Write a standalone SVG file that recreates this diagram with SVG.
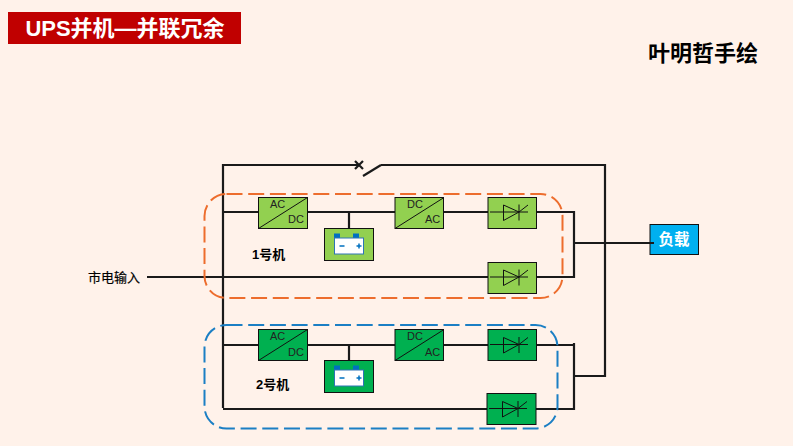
<svg xmlns="http://www.w3.org/2000/svg" width="793" height="446" viewBox="0 0 793 446">
<style>
text{font-family:"Liberation Sans","Noto Sans CJK SC",sans-serif}
.cjk{font-family:"Liberation Sans","Noto Sans CJK SC",sans-serif;font-weight:bold;fill:#000}
.wire{fill:none;stroke:#1a1a1a;stroke-width:2.200}
.thin{fill:none;stroke:#111;stroke-width:1}
.lg{fill:#92d050;stroke:#111;stroke-width:1}
.dg{fill:#00b050;stroke:#111;stroke-width:1}
.lbl{font-size:11px;fill:#222}
.zone{fill:none;stroke-width:2;stroke-dasharray:16 5.7}
</style>
<defs>
<g id="conv"><line class="thin" x1="0" y1="31" x2="49" y2="0"/></g>
<g id="scr">
<path class="thin" d="M2 15H40M15.500 8V23.500L31 15ZM31 7.500V23.500M31 15L40 8"/>
</g>
<g id="batt">
<rect x="9.500" y="5" width="6" height="5" fill="#0070c0"/>
<rect x="28.500" y="5" width="6" height="5" fill="#0070c0"/>
<rect x="10" y="9.500" width="29" height="16" fill="#fff" stroke="#2e75b6" stroke-width="1"/>
<path d="M15 17.500H20M32 17.500H37M34.500 15V20" stroke="#0070c0" stroke-width="1.500" fill="none"/>
</g>
</defs>
<rect width="793" height="446" fill="#fff2ea"/>
<g id="connectors">
<path class="wire" d="M223 408V165H358M381 165H605V376H574"/>
<path class="wire" d="M363 176L381 165"/>
<path class="wire" d="M355 161L363 169M363 161L355 169"/>
<path class="wire" d="M223 212H574V277H147"/>
<path class="wire" d="M349 212V228"/>
<path class="wire" d="M574 243H654"/>
<path class="wire" d="M223 345H574M574 343V409H223"/>
<path class="wire" d="M349 345V361"/>
</g>
<g id="zone-1"><rect class="zone" x="204.500" y="194" width="358" height="104" rx="22" stroke="#ed6d2d"/></g>
<g id="zone-2"><rect class="zone" x="204.500" y="325" width="353" height="103.500" rx="22" stroke="#1b7fc4"/></g>
<g id="title"><rect x="8" y="12" width="233" height="32" fill="#c00000"/><text x="125" y="35.500" font-size="22" font-weight="bold" fill="#fff" text-anchor="middle">UPS并机—并联冗余</text></g>
<g id="author"><text class="cjk" x="648" y="60.500" font-size="22">叶明哲手绘</text></g>
<g id="mains-label"><text class="cjk" x="88" y="281.500" font-size="13" style="font-weight:normal;stroke:#000;stroke-width:.2">市电输入</text></g>
<g id="label-1"><text class="cjk" x="252" y="259" font-size="13">1号机</text></g>
<g id="label-2"><text class="cjk" x="256" y="389" font-size="13">2号机</text></g>
<g id="rectifier-1"><rect class="lg" x="258.500" y="197.500" width="49" height="31"/><use href="#conv" x="258.500" y="197.500"/><text class="lbl" x="270" y="208">AC</text><text class="lbl" x="288" y="223">DC</text></g>
<g id="battery-1"><rect class="lg" x="324.500" y="228.500" width="49" height="32"/><use href="#batt" x="324.500" y="228.500"/></g>
<g id="inverter-1"><rect class="lg" x="395" y="197.500" width="48.500" height="31"/><use href="#conv" x="395" y="197.500"/><text class="lbl" x="407" y="208">DC</text><text class="lbl" x="425" y="223">AC</text></g>
<g id="scr-1a"><rect class="lg" x="488" y="197.500" width="48.500" height="31"/><use href="#scr" x="488" y="197"/></g>
<g id="scr-1b"><rect class="lg" x="488" y="262.500" width="48.500" height="31"/><use href="#scr" x="488" y="262"/></g>
<g id="load"><rect x="650" y="224.500" width="48.500" height="30" fill="#00b0f0" stroke="#111"/><line x1="650" y1="243" x2="654" y2="243" stroke="#1a1a1a" stroke-width="2"/><text x="674" y="245" font-size="15.500" font-weight="bold" fill="#fff" text-anchor="middle">负载</text></g>
<g id="rectifier-2"><rect class="dg" x="258.500" y="329.500" width="49" height="31"/><use href="#conv" x="258.500" y="329.500"/><text class="lbl" x="270" y="340">AC</text><text class="lbl" x="288" y="356">DC</text></g>
<g id="battery-2"><rect class="dg" x="324.500" y="360.500" width="49" height="32"/><use href="#batt" x="324.500" y="360.500"/></g>
<g id="inverter-2"><rect class="dg" x="395" y="329.500" width="48.500" height="31"/><use href="#conv" x="395" y="329.500"/><text class="lbl" x="407" y="340">DC</text><text class="lbl" x="425" y="356">AC</text></g>
<g id="scr-2a"><rect class="dg" x="488" y="329.500" width="48.500" height="31"/><use href="#scr" x="488" y="329.500"/></g>
<g id="scr-2b"><rect class="dg" x="487" y="393.500" width="49" height="31"/><use href="#scr" x="487" y="393.500"/></g>
</svg>
